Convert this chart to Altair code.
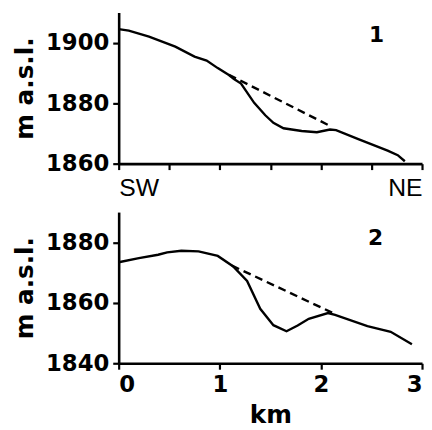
import altair as alt
import pandas as pd

# Panel 1 (SW -> NE profile)
p1_x = [0, 0.1, 0.3, 0.56, 0.75, 0.87, 0.98, 1.09, 1.14, 1.21, 1.34, 1.45, 1.53, 1.63,
        1.81, 1.96, 2.09, 2.15, 2.37, 2.66, 2.76, 2.83]
p1_y = [1904.5, 1904.0, 1902.0, 1898.7, 1895.4, 1894.1, 1891.6, 1889.3, 1888.0, 1886.5,
        1880.1, 1876.0, 1873.5, 1871.7, 1870.8, 1870.4, 1871.3, 1871.1, 1868.1, 1864.3,
        1862.8, 1860.8]
p1_dx = [1.09, 2.09]
p1_dy = [1889.4, 1872.5]

# Panel 2
p2_x = [0, 0.2, 0.39, 0.48, 0.62, 0.79, 0.98, 1.13, 1.27, 1.40, 1.53, 1.66, 1.77, 1.88,
        2.07, 2.14, 2.46, 2.69, 2.90]
p2_y = [1873.4, 1874.8, 1875.9, 1876.7, 1877.2, 1877.0, 1875.5, 1872.1, 1867.2, 1858.0,
        1852.6, 1850.6, 1852.5, 1854.7, 1856.6, 1856.0, 1852.3, 1850.4, 1846.3]
p2_dx = [1.12, 2.12]
p2_dy = [1872.3, 1856.6]

panel_labels = ["1", "2"]
label_x = [2.55, 2.54]
label_y = [1902.6, 1881.3]

x_ticks = [0, 0.5, 1, 1.5, 2, 2.5, 3]
y1_ticks = [1860, 1870, 1880, 1890, 1900, 1910]
y2_ticks = [1840, 1850, 1860, 1870, 1880, 1890]

BFONT = "DejaVu Sans"
RFONT = "Liberation Sans"
W, H = 307, 153
FS = 23
TFS = 25


def panel(xs, ys, dxs, dys, lab, lx, ly, ydom, yticks, bottom):
    solid = pd.DataFrame({"x": xs, "y": ys})
    dash = pd.DataFrame({"x": dxs, "y": dys})
    lab_df = pd.DataFrame({"x": [lx], "y": [ly], "t": [lab]})
    if bottom:
        xaxis = alt.Axis(values=x_ticks, title="km", titleFontSize=TFS, titleFontWeight="bold",
                         titleFont=BFONT, titlePadding=6, ticks=True, tickSize=6,
                         labelExpr="datum.value % 1 == 0 ? datum.label : ''",
                         labelFontSize=FS, labelFontWeight="bold", labelFont=BFONT,
                         labelPadding=5, labelOverlap=False, format="d")
    else:
        xaxis = alt.Axis(values=x_ticks, title=None, ticks=True, tickSize=6,
                         labelExpr="datum.value == 0 ? 'SW' : (datum.value == 3 ? 'NE' : '')",
                         labelFontSize=25, labelFontWeight="normal", labelFont=RFONT,
                         labelPadding=6, labelFlush=True, labelOverlap=False)
    yaxis = alt.Axis(values=yticks, title="m a.s.l.", titleFontSize=TFS, titleFontWeight="bold",
                     titleFont=BFONT, titlePadding=8, format="d", ticks=True, tickSize=6,
                     labelExpr="datum.value % 20 == 0 ? datum.label : ''",
                     labelFontSize=FS, labelFontWeight="bold", labelFont=BFONT,
                     labelPadding=4, labelOverlap=False)
    xs_ = alt.Scale(domain=[0, 3], nice=False, zero=False)
    ys_ = alt.Scale(domain=ydom, nice=False, zero=False)
    l1 = alt.Chart(solid).mark_line(color="black", strokeWidth=2.4).encode(
        x=alt.X("x:Q", scale=xs_, axis=xaxis),
        y=alt.Y("y:Q", scale=ys_, axis=yaxis),
    )
    l2 = alt.Chart(dash).mark_line(color="black", strokeWidth=2.4, strokeDash=[8, 5]).encode(
        x=alt.X("x:Q", scale=xs_),
        y=alt.Y("y:Q", scale=ys_),
    )
    t = alt.Chart(lab_df).mark_text(fontSize=22, fontWeight="bold", font=BFONT,
                                    color="black").encode(
        x=alt.X("x:Q", scale=xs_),
        y=alt.Y("y:Q", scale=ys_),
        text="t:N",
    )
    return alt.layer(l1, l2, t).properties(width=W, height=H)


top = panel(p1_x, p1_y, p1_dx, p1_dy, panel_labels[0], label_x[0], label_y[0],
            [1860, 1910], y1_ticks, False)
bot = panel(p2_x, p2_y, p2_dx, p2_dy, panel_labels[1], label_x[1], label_y[1],
            [1840, 1890], y2_ticks, True)

chart = alt.vconcat(top, bot, spacing=12).properties(
    padding={"left": 4, "top": 2, "right": 0, "bottom": 0}
).configure_view(stroke=None).configure_axis(
    grid=False, domainColor="black", domainWidth=2.6, tickColor="black", tickWidth=2.2,
    labelColor="black", titleColor="black"
)

chart.save("out.html", embed_options={"renderer": "svg", "actions": False})
